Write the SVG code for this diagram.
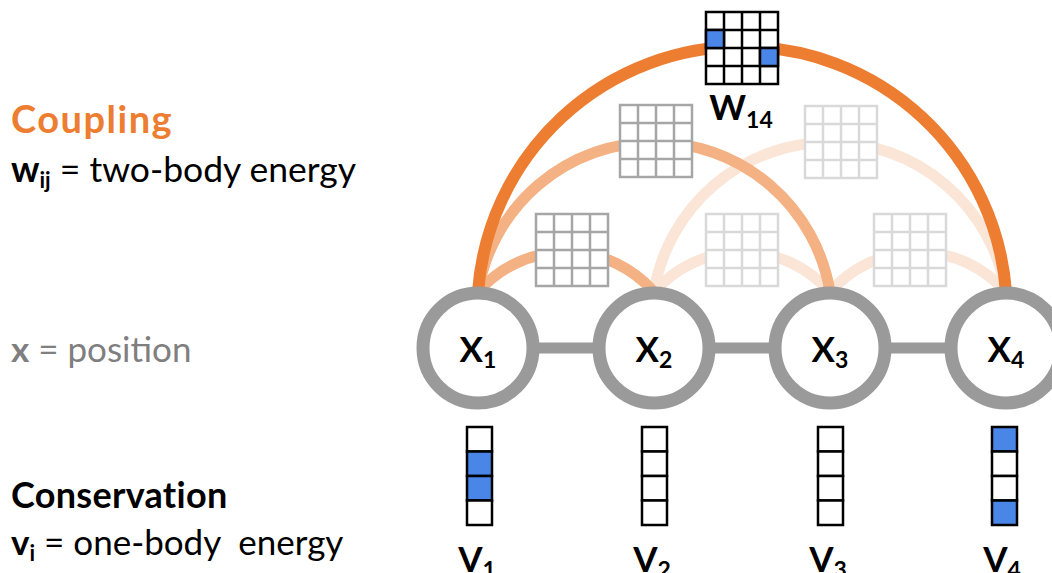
<svg xmlns="http://www.w3.org/2000/svg" width="1052" height="573" viewBox="0 0 1052 573">
  <style>
    text { font-family: Lato, "Open Sans", "Liberation Sans", sans-serif; }
    .b { font-weight: bold; }
    .arc { fill: none; stroke-linecap: butt; }
    .strong { stroke: #ed7d31; stroke-width: 12; }
    .mid { stroke: #f4b183; stroke-width: 11; }
    .light { stroke: #fbe5d6; stroke-width: 11; }
    .g-dark { color: #000; }
    .g-gray { color: #a6a6a6; }
    .g-pale { color: #d9d9d9; }
    .cell-on { fill: #4a86e8; stroke: #000; stroke-width: 2.5; }
    .node circle { fill: #fff; stroke: #9a9a9a; stroke-width: 13; }
    .bar { stroke: #9a9a9a; stroke-width: 11; }
    .vec rect { fill: #fff; stroke: #000; stroke-width: 2.5; }
    .vec rect.on { fill: #4a86e8; }
  </style>
  <defs>
    <!-- 4x4 coupling matrix, 18px cells; line colour follows the group's color -->
    <g id="mat" fill="#fff" stroke="currentColor" stroke-width="2.5">
      <rect x="0" y="0" width="72" height="72"/>
      <path d="M18,0V72M36,0V72M54,0V72M0,18H72M0,36H72M0,54H72" fill="none"/>
    </g>
  </defs>

  <!-- legend -->
  <g id="legend">
    <text x="11" y="133" class="b" font-size="38" letter-spacing="1.5" fill="#ed7d31">Coupling</text>
    <text x="11" y="182" font-size="35.5" fill="#000"><tspan class="b">w</tspan><tspan class="b" font-size="22" dy="6">ij</tspan><tspan dy="-6"> = two-body energy</tspan></text>
    <text x="11" y="362" font-size="35" fill="#7f7f7f"><tspan class="b">x</tspan> = position</text>
    <text x="11" y="508" class="b" font-size="36" letter-spacing="0.3" fill="#000">Conservation</text>
    <text x="11" y="555" font-size="35" fill="#000" xml:space="preserve"><tspan class="b">v</tspan><tspan class="b" font-size="22" dy="6">i</tspan><tspan dy="-6"> = one-body  energy</tspan></text>
  </g>

  <!-- pairwise coupling arcs, faint ones underneath -->
  <g id="connectors">
    <path class="arc light" d="M654,292 A178.3,178.3 0 0 1 1006,292"/>
    <path class="arc light" d="M654,292 A116.8,116.8 0 0 1 830,292"/>
    <path class="arc light" d="M830,292 A116.8,116.8 0 0 1 1006,292"/>
    <path class="arc mid" d="M478,292 A178.3,178.3 0 0 1 830,292"/>
    <path class="arc mid" d="M478,292 A116.8,116.8 0 0 1 654,292"/>
    <path class="arc strong" d="M478,292 A264.7,264.7 0 0 1 1006,292"/>
    <line class="bar" x1="530" y1="348" x2="602" y2="348"/>
    <line class="bar" x1="706" y1="348" x2="778" y2="348"/>
    <line class="bar" x1="882" y1="348" x2="954" y2="348"/>
  </g>

  <!-- coupling matrices -->
  <g id="w24" class="g-pale"><use href="#mat" x="805" y="106"/></g>
  <g id="w23" class="g-pale"><use href="#mat" x="706" y="214"/></g>
  <g id="w34" class="g-pale"><use href="#mat" x="874" y="214"/></g>
  <g id="w13" class="g-gray"><use href="#mat" x="620" y="105"/></g>
  <g id="w12" class="g-gray"><use href="#mat" x="536" y="214"/></g>
  <g id="w14" class="g-dark">
    <use href="#mat" x="706" y="12"/>
    <rect class="cell-on" x="706" y="30" width="18" height="18"/>
    <rect class="cell-on" x="760" y="48" width="18" height="18"/>
    <text x="741" y="120" class="b" font-size="35" fill="#000" text-anchor="middle">W<tspan font-size="23" dy="8">14</tspan></text>
  </g>

  <!-- position nodes -->
  <g id="x1" class="node">
    <circle cx="478" cy="348" r="55"/>
    <text x="478" y="362" class="b" font-size="35" text-anchor="middle">X<tspan font-size="23" dy="6">1</tspan></text>
  </g>
  <g id="x2" class="node">
    <circle cx="654" cy="348" r="55"/>
    <text x="654" y="362" class="b" font-size="35" text-anchor="middle">X<tspan font-size="23" dy="6">2</tspan></text>
  </g>
  <g id="x3" class="node">
    <circle cx="830" cy="348" r="55"/>
    <text x="830" y="362" class="b" font-size="35" text-anchor="middle">X<tspan font-size="23" dy="6">3</tspan></text>
  </g>
  <g id="x4" class="node">
    <circle cx="1006" cy="348" r="55"/>
    <text x="1006" y="362" class="b" font-size="35" text-anchor="middle">X<tspan font-size="23" dy="6">4</tspan></text>
  </g>

  <!-- one-body vectors -->
  <g id="v1" class="vec">
    <rect x="467" y="427" width="25" height="24.5"/>
    <rect class="on" x="467" y="451.5" width="25" height="24.5"/>
    <rect class="on" x="467" y="476" width="25" height="24.5"/>
    <rect x="467" y="500.5" width="25" height="24.5"/>
    <text x="477" y="572" class="b" font-size="35" text-anchor="middle">V<tspan font-size="23" dy="6">1</tspan></text>
  </g>
  <g id="v2" class="vec">
    <rect x="642" y="427" width="25" height="24.5"/>
    <rect x="642" y="451.5" width="25" height="24.5"/>
    <rect x="642" y="476" width="25" height="24.5"/>
    <rect x="642" y="500.5" width="25" height="24.5"/>
    <text x="652" y="572" class="b" font-size="35" text-anchor="middle">V<tspan font-size="23" dy="6">2</tspan></text>
  </g>
  <g id="v3" class="vec">
    <rect x="818" y="427" width="25" height="24.5"/>
    <rect x="818" y="451.5" width="25" height="24.5"/>
    <rect x="818" y="476" width="25" height="24.5"/>
    <rect x="818" y="500.5" width="25" height="24.5"/>
    <text x="828" y="572" class="b" font-size="35" text-anchor="middle">V<tspan font-size="23" dy="6">3</tspan></text>
  </g>
  <g id="v4" class="vec">
    <rect class="on" x="992" y="427" width="25" height="24.5"/>
    <rect x="992" y="451.5" width="25" height="24.5"/>
    <rect x="992" y="476" width="25" height="24.5"/>
    <rect class="on" x="992" y="500.5" width="25" height="24.5"/>
    <text x="1002" y="572" class="b" font-size="35" text-anchor="middle">V<tspan font-size="23" dy="6">4</tspan></text>
  </g>
</svg>
